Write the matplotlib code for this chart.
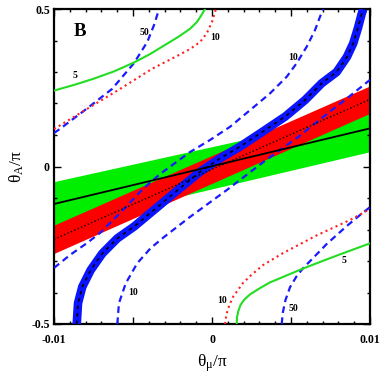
import matplotlib
matplotlib.use("Agg")
import matplotlib.pyplot as plt
from matplotlib.ticker import MultipleLocator, FixedLocator

plt.rcParams['font.family'] = ['Liberation Serif', 'DejaVu Serif']
plt.rcParams['mathtext.fontset'] = 'stix'

# bands (straight): values at theta_mu = -0.01 and 0.01
band_x = [-0.01, 0.01]
green_hi = [-0.048, 0.174]
green_lo = [-0.189, 0.047]
green_mid = [-0.119, 0.121]
red_hi = [-0.186, 0.256]
red_lo = [-0.276, 0.169]
red_mid = [-0.231, 0.213]

# thick blue band (centre line)
blue_x = [-0.00856, -0.00848, -0.00821, -0.00768, -0.00694, -0.00599, -0.00494,
          -0.00329, -0.00203, -0.00076, 0.00051, 0.00177, 0.00304, 0.00462,
          0.00589, 0.00694, 0.00789, 0.00854, 0.00894, 0.00924, 0.00948, 0.00958]
blue_y = [-0.5, -0.434, -0.382, -0.329, -0.276, -0.228, -0.191,
          -0.122, -0.069, -0.017, 0.026, 0.063, 0.105, 0.158,
          0.211, 0.264, 0.300, 0.348, 0.391, 0.440, 0.486, 0.5]

# dashed blue curves
d50a_x = [-0.0100, -0.00958, -0.00789, -0.00633, -0.00494, -0.00409, -0.00367, -0.00335]
d50a_y = [0.106, 0.121, 0.185, 0.246, 0.328, 0.396, 0.449, 0.5]
d50b_x = [0.00441, 0.00449, 0.00465, 0.00494, 0.00536, 0.00578, 0.00633, 0.00726,
          0.00853, 0.00937, 0.0100]
d50b_y = [-0.5, -0.462, -0.424, -0.383, -0.348, -0.322, -0.294, -0.246,
          -0.189, -0.154, -0.129]
d10a_x = [-0.0100, -0.00899, -0.00791, -0.00709, -0.00582, -0.00437, -0.00329,
          -0.00139, -0.00013, 0.00114, 0.00241, 0.00367, 0.00473, 0.00536,
          0.00599, 0.00652, 0.00684, 0.00704]
d10a_y = [-0.322, -0.281, -0.243, -0.211, -0.148, -0.071, -0.024,
          0.046, 0.084, 0.126, 0.179, 0.232, 0.285, 0.328,
          0.380, 0.433, 0.476, 0.5]
d10b_x = [-0.00599, -0.00589, -0.00546, -0.00473, -0.00388, -0.00304, -0.00139,
          0.00093, 0.00335, 0.00546, 0.00758, 0.00873, 0.0100]
d10b_y = [-0.5, -0.434, -0.371, -0.307, -0.259, -0.224, -0.160,
          -0.075, 0.018, 0.094, 0.179, 0.224, 0.275]

# green solid curves (5)
g5a_x = [-0.0100, -0.00873, -0.00747, -0.00620, -0.00494, -0.00392, -0.00297,
         -0.00215, -0.00139, -0.00095, -0.00070, -0.00044]
g5a_y = [0.241, 0.259, 0.279, 0.302, 0.330, 0.357, 0.386,
         0.411, 0.437, 0.459, 0.478, 0.5]
g5b_x = [0.00156, 0.00158, 0.00166, 0.00180, 0.00205, 0.00241, 0.00304, 0.00367,
         0.00462, 0.00576, 0.00684, 0.00810, 0.0100]
g5b_y = [-0.5, -0.480, -0.460, -0.440, -0.422, -0.406, -0.386, -0.368,
         -0.348, -0.324, -0.303, -0.279, -0.244]

# red dotted curves (10)
r10a_x = [-0.0100, -0.00797, -0.00589, -0.00380, -0.00209, -0.00139, -0.00076,
          -0.00032, 0.0, 0.00025]
r10a_y = [0.119, 0.181, 0.244, 0.310, 0.354, 0.373, 0.395, 0.424, 0.459, 0.5]
r10b_x = [0.00082, 0.00092, 0.00108, 0.00133, 0.00196, 0.00241, 0.00323,
          0.00449, 0.00665, 0.00873, 0.0100]
r10b_y = [-0.5, -0.468, -0.443, -0.414, -0.370, -0.348, -0.313,
          -0.275, -0.218, -0.170, -0.135]

# curve labels
lab_text = ['5', '50', '10', '10', '10', '10', '5', '50']
lab_x = [-0.00869, -0.0043, 0.00019, 0.00515, -0.0050, 0.00061, 0.00835, 0.00515]
lab_y = [0.290, 0.424, 0.410, 0.347, -0.401, -0.424, -0.299, -0.452]

fig = plt.figure(figsize=(3.82, 3.77), dpi=100)
ax = fig.add_axes([54 / 382, 53 / 377, 316 / 382, 315 / 377])

ax.fill_between(band_x, green_lo, green_hi, color='#00ee00', lw=0, zorder=1)
ax.fill_between(band_x, red_lo, red_hi, color='#ff0000', lw=0, zorder=2)

dash_kw = dict(color='#1a1aff', lw=1.6, dashes=(3, 2), zorder=3)
ax.plot(d50a_x, d50a_y, **dash_kw)
ax.plot(d50b_x, d50b_y, **dash_kw)
ax.plot(d10a_x, d10a_y, **dash_kw)
ax.plot(d10b_x, d10b_y, **dash_kw)

ax.plot(g5a_x, g5a_y, color='#22dd22', lw=1.5, zorder=3)
ax.plot(g5b_x, g5b_y, color='#22dd22', lw=1.5, zorder=3)
ax.plot(r10a_x, r10a_y, color='#ff2020', lw=1.5, ls=':', zorder=3)
ax.plot(r10b_x, r10b_y, color='#ff2020', lw=1.5, ls=':', zorder=3)

ax.plot(blue_x, blue_y, color='#0a14ff', lw=6.2, solid_capstyle='butt',
        solid_joinstyle='round', zorder=4)
ax.plot(blue_x, blue_y, color='black', lw=1.2, dashes=(2, 2.5), zorder=5)

ax.plot(band_x, green_mid, color='black', lw=1.3, zorder=5)
ax.plot(band_x, red_mid, color='black', lw=1.0, ls=':', zorder=5)

for t, x, y in zip(lab_text, lab_x, lab_y):
    ax.text(x, y, t, fontsize=7, fontweight='bold', ha='center', va='center', zorder=6)
ax.text(-0.00835, 0.427, 'B', fontsize=13.5, fontweight='bold', ha='center', va='center')

ax.set_xlim(-0.01, 0.01)
ax.set_ylim(-0.5, 0.5)
ax.xaxis.set_major_locator(FixedLocator([-0.01, -0.005, 0, 0.005, 0.01]))
ax.xaxis.set_minor_locator(MultipleLocator(0.001))
ax.yaxis.set_major_locator(FixedLocator([-0.5, 0, 0.5]))
ax.yaxis.set_minor_locator(MultipleLocator(0.1))
ax.set_xticklabels(['-0.01', '', '0', '', '0.01'])
ax.set_yticklabels(['-0.5', '0', '0.5'])
ax.tick_params(which='both', direction='in', top=True, right=True, width=1.0)
ax.tick_params(which='major', length=5, labelsize=8.5)
ax.tick_params(axis='x', which='major', pad=7)
ax.tick_params(axis='y', which='major', pad=3)
ax.tick_params(which='minor', length=2.5)
for lbl in ax.get_xticklabels() + ax.get_yticklabels():
    lbl.set_fontweight('bold')
for s in ax.spines.values():
    s.set_linewidth(1.6)

ax.set_xlabel(r'$\mathregular{\theta_{\mu}/\pi}$', fontsize=12.5, labelpad=5)
ax.set_ylabel(r'$\mathregular{\theta_{A}/\pi}$', fontsize=12.5, labelpad=4)

fig.savefig('out.png', dpi=100)
